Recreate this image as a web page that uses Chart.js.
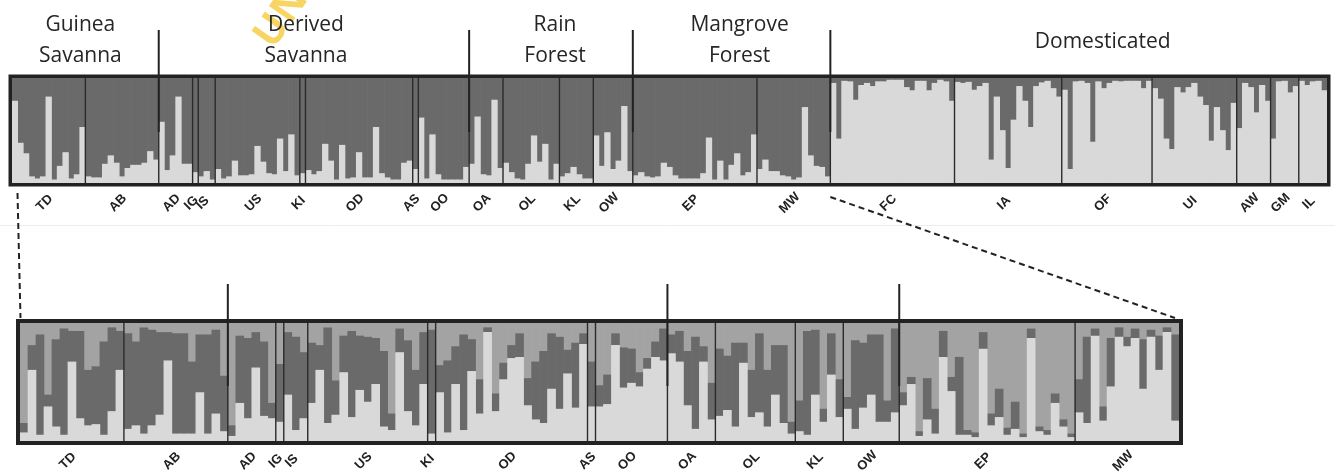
<!DOCTYPE html>
<html lang="en">
<head>
<meta charset="utf-8">
<title>STRUCTURE plot</title>
<script src="https://cdn.jsdelivr.net/npm/chart.js@4.4.1/dist/chart.umd.min.js"></script>
<style>
  html, body { margin: 0; padding: 0; background: #fff; }
  #wrap { position: relative; width: 1335px; height: 476px; overflow: hidden; }
  #wrap canvas { position: absolute; left: 0; }
  #top-chart { top: 0; }
  #bot-chart { top: 230px; }
  #overlay   { top: 0; pointer-events: none; }
</style>
</head>
<body>
<div id="wrap">
  <canvas id="top-chart" width="1335" height="230"></canvas>
  <canvas id="bot-chart" width="1335" height="246"></canvas>
  <canvas id="overlay"   width="1335" height="476"></canvas>
</div>
<script>
// ── Data ─────────────────────────────────────────────────────────────────────

const pops = ["TD", "AB", "AD", "IG", "IS", "US", "KI", "OD", "AS", "OO", "OA", "OL",
              "KL", "OW", "EP", "MW", "FC", "IA", "OF", "UI", "AW", "GM", "IL"];
const popSizes = [13, 13, 6, 1, 3, 15, 1, 19, 1, 9, 6, 10, 6, 7, 22, 13,
                  22, 19, 16, 15, 6, 5, 5];
const wildPops = 16;   // TD..MW are re-plotted in the lower (K=3) panel

const groupNames  = [["Guinea", "Savanna"], ["Derived", "Savanna"], ["Rain", "Forest"],
                     ["Mangrove", "Forest"], ["Domesticated"]];
const groupStarts = [0, 2, 10, 14, 16];   // index of the first population in each group

// K=2 : share of the light cluster per individual (dark cluster is the rest)
const topLight = [
  0.78, 0.38, 0.28, 0.06, 0.04, 0.06, 0.82, 0.03, 0.16, 0.29, 0.04, 0.08, 0.53,         // TD
  0.06, 0.05, 0.05, 0.18, 0.26, 0.19, 0.06, 0.14, 0.17, 0.17, 0.19, 0.30, 0.22,         // AB
  0.58, 0.12, 0.26, 0.82, 0.18, 0.18,                                                   // AD
  0.10,                                                                                 // IG
  0.06, 0.11, 0.03,                                                                     // IS
  0.13, 0.04, 0.06, 0.21, 0.07, 0.07, 0.08, 0.35, 0.20, 0.09, 0.08, 0.42, 0.11, 0.46, 0.07, // US
  0.09,                                                                                 // KI
  0.12, 0.08, 0.11, 0.37, 0.21, 0.03, 0.36, 0.04, 0.05, 0.29, 0.05, 0.05, 0.53, 0.09,
  0.05, 0.03, 0.03, 0.19, 0.21,                                                         // OD
  0.13,                                                                                 // AS
  0.62, 0.04, 0.46, 0.08, 0.03, 0.03, 0.03, 0.03, 0.15,                                 // OO
  0.18, 0.63, 0.08, 0.07, 0.79, 0.14,                                                   // OA
  0.19, 0.10, 0.04, 0.03, 0.18, 0.45, 0.20, 0.37, 0.03, 0.18,                           // OL
  0.06, 0.09, 0.15, 0.08, 0.04, 0.04,                                                   // KL
  0.45, 0.16, 0.48, 0.13, 0.21, 0.73, 0.11,                                             // OW
  0.07, 0.10, 0.06, 0.05, 0.06, 0.19, 0.15, 0.07, 0.04, 0.04, 0.04, 0.04, 0.09, 0.43,
  0.03, 0.21, 0.03, 0.17, 0.28, 0.07, 0.10, 0.46,                                       // EP
  0.13, 0.22, 0.11, 0.11, 0.07, 0.06, 0.03, 0.05, 0.72, 0.26, 0.16, 0.15, 0.06,         // MW
  0.95, 0.42, 0.97, 0.965, 0.79, 0.93, 0.95, 0.92, 0.965, 0.965, 0.98, 0.98, 0.98, 0.91,
  0.88, 0.97, 0.97, 0.88, 0.95, 0.98, 0.965, 0.78,                                      // FC
  0.96, 0.95, 0.96, 0.885, 0.92, 0.95, 0.22, 0.82, 0.50, 0.14, 0.60, 0.92, 0.78, 0.53,
  0.92, 0.955, 0.97, 0.90, 0.82,                                                        // IA
  0.885, 0.13, 0.965, 0.97, 0.95, 0.39, 0.965, 0.90, 0.95, 0.97, 0.965, 0.97, 0.97,
  0.97, 0.90, 0.97,                                                                     // OF
  0.90, 0.80, 0.42, 0.32, 0.91, 0.86, 0.91, 0.95, 0.82, 0.74, 0.40, 0.72, 0.50, 0.31, 0.76, // UI
  0.52, 0.95, 0.91, 0.67, 0.93, 0.78,                                                   // AW
  0.42, 0.965, 0.97, 0.86, 0.92,                                                        // GM
  0.97, 0.93, 0.965, 0.97, 0.88,                                                        // IL
];

// K=3 (wild only) : light cluster share, dark cluster share (medium grey is the rest)
const botLight = [
  0.07, 0.60, 0.05, 0.29, 0.12, 0.05, 0.67, 0.19, 0.13, 0.14, 0.05, 0.25, 0.60,         // TD
  0.10, 0.13, 0.06, 0.13, 0.22, 0.68, 0.06, 0.06, 0.06, 0.41, 0.06, 0.23, 0.08,         // AB
  0.04, 0.32, 0.19, 0.62, 0.21, 0.19,                                                   // AD
  0.16,                                                                                 // IG
  0.39, 0.09, 0.19,                                                                     // IS
  0.32, 0.60, 0.15, 0.22, 0.58, 0.20, 0.43, 0.33, 0.48, 0.12, 0.09, 0.75, 0.25, 0.13, 0.48, // US
  0.06,                                                                                 // KI
  0.41, 0.07, 0.48, 0.09, 0.59, 0.23, 0.92, 0.25, 0.52, 0.70, 0.71, 0.30, 0.18, 0.15,
  0.44, 0.27, 0.57, 0.28, 0.82,                                                         // OD
  0.29,                                                                                 // AS
  0.29, 0.31, 0.81, 0.45, 0.49, 0.46, 0.61, 0.71, 0.68,                                 // OO
  0.74, 0.67, 0.30, 0.10, 0.67, 0.18,                                                   // OA
  0.21, 0.26, 0.12, 0.66, 0.20, 0.24, 0.12, 0.39, 0.15, 0.06,                           // OL
  0.08, 0.05, 0.39, 0.16, 0.56, 0.20,                                                   // KL
  0.27, 0.10, 0.28, 0.39, 0.16, 0.16, 0.24,                                             // OW
  0.30, 0.48, 0.04, 0.18, 0.06, 0.71, 0.42, 0.05, 0.05, 0.03, 0.78, 0.13, 0.20, 0.05,
  0.10, 0.03, 0.87, 0.08, 0.05, 0.32, 0.12, 0.03,                                       // EP
  0.24, 0.15, 0.89, 0.17, 0.46, 0.88, 0.80, 0.87, 0.44, 0.88, 0.60, 0.92, 0.17,         // MW
];
const botDark = [
  0.08, 0.21, 0.85, 0.10, 0.74, 0.90, 0.26, 0.74, 0.47, 0.49, 0.79, 0.71, 0.33,         // TD
  0.81, 0.71, 0.90, 0.81, 0.70, 0.24, 0.85, 0.85, 0.61, 0.49, 0.84, 0.71, 0.47,         // AB
  0.09, 0.57, 0.68, 0.30, 0.63, 0.13,                                                   // AD
  0.49,                                                                                 // IG
  0.53, 0.79, 0.56,                                                                     // IS
  0.51, 0.21, 0.81, 0.29, 0.31, 0.73, 0.46, 0.55, 0.39, 0.64, 0.14, 0.20, 0.60, 0.47, 0.44, // US
  0.88,                                                                                 // KI
  0.23, 0.61, 0.32, 0.81, 0.27, 0.29, 0.04, 0.15, 0.14, 0.11, 0.20, 0.23, 0.49, 0.61,
  0.47, 0.61, 0.20, 0.55, 0.09,                                                         // OD
  0.38,                                                                                 // AS
  0.18, 0.25, 0.10, 0.34, 0.29, 0.12, 0.09, 0.13, 0.27,                                 // OO
  0.16, 0.26, 0.46, 0.78, 0.13, 0.31,                                                   // OA
  0.57, 0.46, 0.71, 0.17, 0.40, 0.67, 0.48, 0.42, 0.66, 0.10,                           // OL
  0.26, 0.88, 0.55, 0.11, 0.35, 0.32,                                                   // KL
  0.10, 0.75, 0.55, 0.51, 0.74, 0.18, 0.71,                                             // OW
  0.11, 0.06, 0.04, 0.35, 0.21, 0.22, 0.12, 0.66, 0.04, 0.04, 0.14, 0.10, 0.24, 0.06,
  0.23, 0.03, 0.08, 0.04, 0.04, 0.08, 0.06, 0.03,                                       // EP
  0.28, 0.73, 0.06, 0.12, 0.41, 0.08, 0.08, 0.08, 0.42, 0.06, 0.29, 0.04, 0.73,         // MW
];

// ── Look ─────────────────────────────────────────────────────────────────────

const LIGHT = "#d9d9d9";
const DARK  = "#6a6a6a";
const MID   = "#a3a3a3";
const INK   = "#222222";

// one label per individual, e.g. "TD 1"
function individualLabels(popCount) {
    const out = [];
    for (let p = 0; p < popCount; p++)
        for (let i = 1; i <= popSizes[p]; i++) out.push(pops[p] + " " + i);
    return out;
}

// ── Decorations plugin: frame, population lines, labels, group titles ────────

function popEdges(chart, popCount) {
    const { chartArea: a, scales: { x } } = chart;
    const n = chart.data.labels.length;
    const edge = i => i <= 0 ? a.left : i >= n ? a.right
        : (x.getPixelForValue(i - 1) + x.getPixelForValue(i)) / 2;
    const starts = [0];
    for (let p = 0; p < popCount; p++) starts.push(starts[p] + popSizes[p]);
    return starts.map(edge);
}

const structurePlugin = {
    id: "structure",
    beforeDraw(chart, args, o) {
        if (!o.watermark) return;
        const ctx = chart.ctx;
        ctx.save();
        ctx.translate(273, 50);
        ctx.rotate(-55 * Math.PI / 180);
        ctx.font = 'bold 40px "Open Sans", sans-serif';
        ctx.fillStyle = "rgba(247, 205, 70, 0.85)";
        ctx.fillText("UN", 0, 0);
        ctx.restore();
    },
    afterDatasetsDraw(chart, args, o) {
        const { ctx, chartArea: a } = chart;
        const edges = popEdges(chart, o.popCount);
        ctx.save();

        // thin lines between populations
        ctx.strokeStyle = "#2b2b2b";
        ctx.lineWidth = 1.4;
        for (let p = 1; p < o.popCount; p++) {
            ctx.beginPath();
            ctx.moveTo(edges[p], a.top);
            ctx.lineTo(edges[p], a.bottom);
            ctx.stroke();
        }

        // group separators poking above the panel
        ctx.strokeStyle = INK;
        ctx.lineWidth = 2;
        o.groupLines.forEach(g => {
            const px = edges[groupStarts[g]];
            ctx.beginPath();
            ctx.moveTo(px, o.groupY[0]);
            ctx.lineTo(px, o.groupY[1]);
            ctx.stroke();
        });

        // heavy frame
        const f = o.frame;
        ctx.lineWidth = f;
        ctx.strokeStyle = INK;
        ctx.strokeRect(a.left - f / 2, a.top - f / 2, a.right - a.left + f, a.bottom - a.top + f);

        // rotated population codes
        ctx.font = 'bold 13px "Liberation Sans", Arial, sans-serif';
        ctx.fillStyle = INK;
        ctx.textAlign = "center";
        ctx.textBaseline = "middle";
        for (let p = 0; p < o.popCount; p++) {
            const cx = (edges[p] + edges[p + 1]) / 2 - 4;
            ctx.save();
            ctx.translate(cx, a.bottom + 20);
            ctx.rotate(-Math.PI / 4);
            ctx.fillText(pops[p], 0, 0);
            ctx.restore();
        }

        // habitat titles (top panel only)
        if (o.titles) {
            ctx.font = '21px "Open Sans", sans-serif';
            ctx.fillStyle = "#262626";
            ctx.textBaseline = "alphabetic";
            groupNames.forEach((lines, g) => {
                const from = edges[groupStarts[g]];
                const to   = edges[g + 1 < groupStarts.length ? groupStarts[g + 1] : o.popCount];
                const cx = (from + to) / 2 + o.titleShift[g];
                const ys = lines.length === 2 ? [30.5, 61.5] : [47.5];
                lines.forEach((t, k) => ctx.fillText(t, cx, ys[k]));
            });
        }
        ctx.restore();
    },
};

function options(padding, deco) {
    return {
        responsive: false,
        animation: false,
        events: [],
        layout: { padding },
        datasets: { bar: { barPercentage: 1, categoryPercentage: 1, borderWidth: 0 } },
        scales: {
            x: { stacked: true, display: false },
            y: { stacked: true, display: false, min: 0, max: 1 },
        },
        plugins: {
            legend:  { display: false },
            tooltip: { enabled: false },
            structure: deco,
        },
    };
}

// ── Top panel: all populations, K=2 ──────────────────────────────────────────

const topChart = new Chart(document.getElementById("top-chart"), {
    type: "bar",
    data: {
        labels: individualLabels(pops.length),
        datasets: [
            { label: "Cluster 1", data: topLight, backgroundColor: LIGHT },
            { label: "Cluster 2", data: topLight.map(v => 1 - v), backgroundColor: DARK },
        ],
    },
    options: options({ left: 12, right: 8, top: 78, bottom: 47 }, {
        popCount: pops.length,
        groupLines: [1, 2, 3, 4],
        groupY: [30, 132],
        frame: 3.5,
        titles: true,
        titleShift: [-5, -8, 4, 8, 24],
        watermark: true,
    }),
    plugins: [structurePlugin],
});

// ── Bottom panel: wild populations only, K=3 ─────────────────────────────────

const botChart = new Chart(document.getElementById("bot-chart"), {
    type: "bar",
    data: {
        labels: individualLabels(wildPops),
        datasets: [
            { label: "Cluster 1", data: botLight, backgroundColor: LIGHT },
            { label: "Cluster 2", data: botDark,  backgroundColor: DARK },
            { label: "Cluster 3", data: botLight.map((v, i) => Math.max(0, 1 - v - botDark[i])),
              backgroundColor: MID },
        ],
    },
    options: options({ left: 20, right: 156, top: 93, bottom: 35 }, {
        popCount: wildPops,
        groupLines: [1, 2, 3],
        groupY: [54, 156],
        frame: 4,
        titles: false,
        watermark: false,
    }),
    plugins: [structurePlugin],
});

// ── Overlay: faint rule and dashed zoom connectors ───────────────────────────

(function drawOverlay() {
    const ctx = document.getElementById("overlay").getContext("2d");
    const BOT_TOP = 230;
    const tA = topChart.chartArea, bA = botChart.chartArea;
    const tEdges = popEdges(topChart, pops.length);

    ctx.strokeStyle = "#ececec";
    ctx.lineWidth = 1;
    ctx.beginPath();
    ctx.moveTo(0, 225.5);
    ctx.lineTo(1335, 225.5);
    ctx.stroke();

    ctx.strokeStyle = INK;
    ctx.lineWidth = 2;
    ctx.setLineDash([6, 4]);
    ctx.beginPath();
    ctx.moveTo(tA.left + 5.5, tA.bottom + 10);
    ctx.lineTo(bA.left + 0.5, BOT_TOP + bA.top - 5);
    ctx.moveTo(tEdges[wildPops], tA.bottom + 14);
    ctx.lineTo(bA.right - 4, BOT_TOP + bA.top - 5);
    ctx.stroke();
})();
</script>
</body>
</html>
